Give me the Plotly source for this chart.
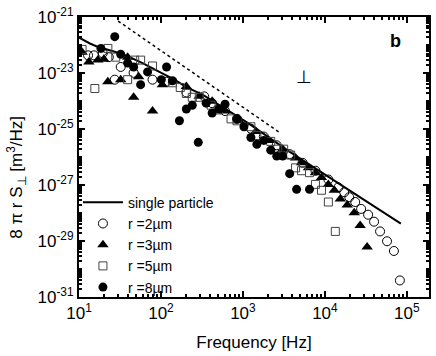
import plotly.graph_objects as go

# single particle curve
sp_f = [10, 11.5, 13.6, 16.5, 22.5, 31.4, 41.5, 59.7, 85.7, 146, 209, 318, 1183, 3614, 84500]
sp_s = [1.85e-22, 1.45e-22, 1.14e-22, 8.9e-23, 7.0e-23, 5.1e-23, 3.7e-23, 2.27e-23, 1.29e-23,
        5.8e-24, 3.04e-24, 1.73e-24, 1.55e-25, 1.62e-26, 4.19e-29]

# dashed guide line
guide_f = [30, 2900]
guide_s = [7.2e-22, 7.0e-26]

# r = 2 um (open circles)
r2_f = [12.9, 15.2, 19.5, 23.1, 27.3, 32.3, 46.4, 78.9, 117, 204, 337, 421, 605, 846, 1250, 1798,
        2582, 3715, 5340, 7670, 11020, 14590, 17220, 19820, 23440, 27670, 33650, 39810, 47100,
        57280, 69500, 82200]
r2_s = [4.3e-23, 4.3e-23, 5.1e-23, 3.7e-23, 5.8e-24, 1.65e-23, 1.02e-23, 5.8e-24, 4.9e-24,
        2.03e-24, 1.47e-24, 8.4e-25, 4.4e-25, 2.31e-25, 1.03e-25, 5.4e-26, 2.63e-26, 1.27e-26,
        6.2e-27, 3.24e-27, 1.57e-27, 8.2e-28, 5.5e-28, 3.68e-28, 2.47e-28, 1.40e-28, 8.7e-29,
        4.9e-29, 2.20e-29, 9.8e-30, 4.4e-30, 3.9e-31]

# r = 3 um (filled triangles)
r3_f = [10.9, 13.2, 17.0, 20.1, 22.5, 32.3, 39.2, 46.4, 53.4, 78.9, 104, 204, 293, 421, 605, 895,
        1438, 2065, 3055, 4389, 5190, 6310, 7670, 9080, 11020, 13030, 15420, 18750, 22800,
        26920, 32740]
r3_s = [5.5e-23, 2.47e-23, 2.9e-23, 3.14e-23, 4.9e-24, 5.8e-24, 3.7e-23, 1.36e-24, 7.4e-24,
        4.4e-25, 3.86e-24, 3.29e-24, 1.47e-24, 9.8e-25, 4.4e-25, 1.97e-25, 8.1e-26, 3.93e-26,
        1.91e-26, 9.2e-27, 6.2e-27, 4.1e-27, 2.76e-27, 1.85e-27, 1.05e-27, 6.5e-28, 3.14e-28,
        1.94e-28, 1.02e-28, 3.56e-29, 6.1e-30]

# r = 5 um (open squares)
r5_f = [10.9, 15.6, 22.5, 28.1, 39.2, 47.8, 56.5, 78.9, 138, 172, 204, 241, 293, 409, 498, 716,
        846, 1250, 1479, 2183, 2655, 3140, 3819, 4389, 5190, 6490, 7670, 9080, 11020, 13400]
r5_s = [7.0e-23, 2.81e-24, 7.6e-23, 3.7e-23, 5.8e-24, 2.9e-23, 2.9e-23, 1.79e-23, 4.5e-24,
        3.04e-24, 1.87e-24, 1.36e-24, 1.36e-24, 7.1e-25, 4.8e-25, 2.31e-25, 1.97e-25, 1.21e-25,
        5.9e-26, 3.62e-26, 1.91e-26, 1.91e-26, 1.17e-26, 4.1e-27, 3.24e-27, 2.76e-27, 1.05e-27,
        6.5e-28, 2.47e-28, 2.20e-29]

# r = 8 um (filled circles)
r8_f = [18.5, 27.3, 32.3, 39.2, 46.4, 56.5, 68.6, 101, 117, 138, 168, 204, 241, 285, 356, 421,
        512, 605, 846, 1028, 1250, 1479, 1798, 2183, 2582, 3055, 3715, 4515, 6490]
r8_s = [7.6e-23, 2.0e-22, 4.7e-23, 2.27e-23, 1.65e-23, 3.86e-24, 1.10e-23, 5.8e-24, 1.65e-23,
        5.3e-24, 1.97e-25, 5.2e-25, 7.1e-25, 3.34e-26, 8.4e-25, 3.74e-25, 5.2e-25, 7.7e-25,
        2.31e-25, 1.21e-25, 5.0e-26, 2.85e-26, 3.93e-26, 1.76e-26, 1.08e-26, 1.08e-26, 2.55e-27,
        7.0e-28, 7.0e-28]

x_tickvals = [10, 100, 1000, 10000, 100000]
x_ticktext = ['10<sup>1</sup>', '10<sup>2</sup>', '10<sup>3</sup>', '10<sup>4</sup>', '10<sup>5</sup>']
y_tickvals = [1e-31, 1e-29, 1e-27, 1e-25, 1e-23, 1e-21]
y_ticktext = ['10<sup>-31</sup>', '10<sup>-29</sup>', '10<sup>-27</sup>', '10<sup>-25</sup>',
              '10<sup>-23</sup>', '10<sup>-21</sup>']

FONT = 'Liberation Sans, Arial, sans-serif'

fig = go.Figure()
fig.add_trace(go.Scatter(x=guide_f, y=guide_s, mode='lines', showlegend=False,
                         line=dict(color='black', width=1.5, dash='dot')))
fig.add_trace(go.Scatter(x=sp_f, y=sp_s, mode='lines', name='single particle',
                         line=dict(color='black', width=2)))
fig.add_trace(go.Scatter(x=r2_f, y=r2_s, mode='markers', name='r =2µm',
                         marker=dict(symbol='circle-open', size=9, color='black',
                                     line=dict(width=1, color='black'))))
fig.add_trace(go.Scatter(x=r3_f, y=r3_s, mode='markers', name='r =3µm',
                         marker=dict(symbol='triangle-up', size=10, color='black')))
fig.add_trace(go.Scatter(x=r5_f, y=r5_s, mode='markers', name='r =5µm',
                         marker=dict(symbol='square-open', size=8, color='#444',
                                     line=dict(width=1, color='#444'))))
fig.add_trace(go.Scatter(x=r8_f, y=r8_s, mode='markers', name='r =8µm',
                         marker=dict(symbol='circle', size=9, color='black')))

axis_common = dict(showgrid=False, zeroline=False, showline=True, linecolor='black',
                   linewidth=2, mirror='ticks', ticks='inside', tickcolor='black',
                   tickwidth=1.5, ticklen=6, tickfont=dict(size=17, color='black'),
                   ticklabeloverflow='allow')

fig.update_xaxes(type='log', range=[1, 5.27], tickmode='array', tickvals=x_tickvals,
                 ticktext=x_ticktext,
                 minor=dict(ticks='inside', ticklen=3, tickcolor='black', dtick='D1'),
                 title=dict(text='Frequency [Hz]', font=dict(size=17, color='black'),
                            standoff=14),
                 **axis_common)
fig.update_yaxes(type='log', range=[-31.001, -20.997], tickmode='array', tickvals=y_tickvals,
                 ticktext=y_ticktext,
                 minor=dict(ticks='inside', ticklen=3, tickcolor='black', dtick='D1'),
                 **axis_common)

fig.add_annotation(text='8 π r S<sub>⊥</sub> [m<sup>3</sup>/Hz]', textangle=-90,
                   xref='paper', yref='paper', x=-0.179, y=0.427,
                   xanchor='center', yanchor='middle', showarrow=False,
                   font=dict(size=17, color='black'))
fig.add_annotation(text='<b>b</b>', xref='paper', yref='paper', x=0.903, y=0.916,
                   xanchor='center', yanchor='middle', showarrow=False,
                   font=dict(size=18, color='black'))
fig.add_annotation(text='⊥', xref='paper', yref='paper', x=0.642, y=0.786,
                   xanchor='center', yanchor='middle', showarrow=False,
                   font=dict(size=18, color='black'))

fig.update_layout(
    width=436, height=356,
    margin=dict(l=79, r=5, t=11, b=59),
    paper_bgcolor='white', plot_bgcolor='white',
    font=dict(family=FONT, color='black'),
    legend=dict(x=-0.003, y=0.394, xanchor='left', yanchor='top',
                bgcolor='rgba(0,0,0,0)', font=dict(size=14, color='black'),
                itemwidth=40, tracegroupgap=0),
)

fig.write_html("out.html", config={'displayModeBar': False},
               post_script="document.body.style.margin='0px';")
